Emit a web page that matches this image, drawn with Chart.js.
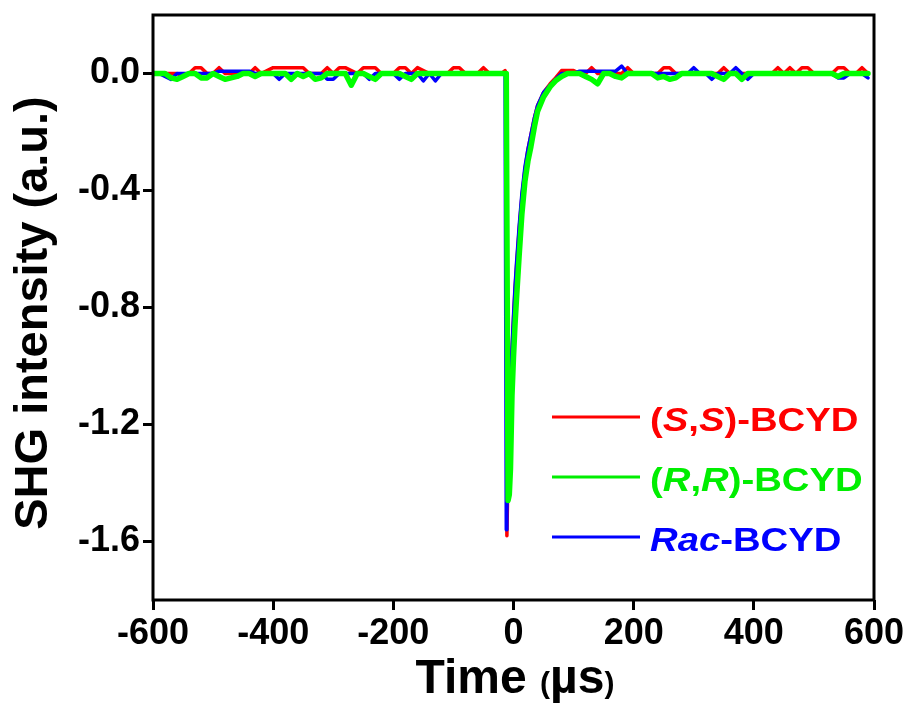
<!DOCTYPE html>
<html lang="en">
<head>
    <meta charset="UTF-8">
    <title>SHG intensity vs time</title>
    <script src="https://cdn.jsdelivr.net/npm/chart.js"></script>
    <style>
        body { margin: 0; background: #fff; }
        #wrap { width: 913px; height: 706px; }
    </style>
</head>
<body>
    <div id="wrap"><canvas id="shgChart" width="913" height="706"></canvas></div>

    <script>
        // sample times (µs)
        const timePre = [
            -600, -590, -580, -570, -560, -550, -540, -530, -520, -510,
            -500, -490, -480, -470, -460, -450, -440, -430, -420, -410,
            -400, -390, -380, -370, -360, -350, -340, -330, -320, -310,
            -300, -290, -280, -270, -260, -250, -240, -230, -220, -210,
            -200, -190, -180, -170, -160, -150, -140, -130, -120, -110,
            -100, -90, -80, -70, -60, -50, -40, -30, -20
        ];
        const timePeak = [-14, -12, -11, -9, -7, -5, -2.5, 0, 2.5, 5, 9.5, 14, 19, 24, 29, 35, 40, 50, 61, 70, 80];
        const timePost = [
            90, 100, 110, 120, 130, 140, 150, 160, 170, 180,
            190, 200, 210, 220, 230, 240, 250, 260, 270, 280,
            290, 300, 310, 320, 330, 340, 350, 360, 370, 380,
            390, 400, 410, 420, 430, 440, 450, 460, 470, 480,
            490, 500, 510, 520, 530, 540, 550, 560, 570, 580,
            590
        ];

        // (S,S)-BCYD
        const redPre = [
            0, 0, 0, 0, 0, -0.01, 0, 0.02, 0.02, 0,
            0, 0.02, 0, 0, 0, 0, 0, 0.02, 0, 0.01,
            0.02, 0.02, 0.02, 0.02, 0.02, 0.02, 0, 0, 0, 0.02,
            0, 0.02, 0.02, 0.01, 0, 0.02, 0.02, 0.02, 0, 0,
            0, 0.02, 0.02, 0, 0.02, 0.01, 0, 0, 0, 0,
            0.02, 0.02, 0, 0, 0, 0.02, 0, 0, 0
        ];
        const redPeak = [0.01, 0, -1.58, -1.35, -1.22, -1.10, -0.95, -0.84, -0.74, -0.66, -0.53, -0.42, -0.33, -0.26, -0.21, -0.15, -0.11, -0.065, -0.035, -0.015, 0.01];
        const redPost = [
            0.01, 0.01, 0, 0, 0.02, 0, 0, 0, 0, 0,
            0.02, 0, 0, 0, 0, 0, 0.02, 0.02, 0, 0,
            0, 0, 0, 0, 0, 0, 0.02, 0, 0, 0,
            0, 0, 0, 0, 0, 0.02, 0, 0.02, 0, 0.02,
            0.02, 0, 0, 0, 0, 0.02, 0.02, 0, 0, 0.02,
            0
        ];

        // (R,R)-BCYD
        const greenPre = [
            0, 0, 0, -0.015, -0.02, -0.01, 0, 0, -0.015, -0.015,
            0, -0.01, -0.02, -0.015, -0.01, 0, 0, -0.01, 0, 0,
            0, 0, 0, -0.02, 0, -0.01, 0, -0.02, -0.015, 0,
            0, 0, 0, -0.04, 0, 0, -0.01, -0.02, 0, 0,
            0, 0, -0.01, -0.02, 0, 0, 0, 0, 0, 0,
            0, 0, 0, 0, 0, 0, 0, 0, 0
        ];
        const greenPeak = [0, 0, 0, -1.46, -1.44, -1.35, -1.10, -0.97, -0.86, -0.77, -0.62, -0.48, -0.37, -0.30, -0.25, -0.18, -0.13, -0.08, -0.045, -0.025, -0.01];
        const greenPost = [
            0, 0, 0, -0.01, -0.02, -0.035, 0, 0, -0.01, -0.015,
            0, 0, 0, 0, 0, -0.015, -0.01, -0.02, -0.015, 0,
            0, 0, 0, 0, 0, -0.01, -0.02, 0, 0, -0.02,
            0, 0, 0, 0, 0, 0, 0, 0, 0, 0,
            0, 0, 0, 0, 0, -0.01, 0, 0, 0, 0,
            0
        ];

        // Rac-BCYD
        const bluePre = [
            0, 0, -0.01, -0.02, 0, 0, 0, 0, 0, 0,
            0, 0.008, 0.008, 0.008, 0.008, 0.008, 0.008, 0, 0, 0,
            0, -0.02, 0, 0, 0, 0, 0, 0, 0, -0.02,
            -0.02, 0, 0, 0, 0, 0, -0.02, 0, 0, 0,
            0, -0.02, 0, 0, 0, -0.025, 0, -0.025, 0, 0,
            0, 0, 0, 0, 0, 0, 0, 0, 0
        ];
        const bluePeak = [0, -1.56, -1.50, -1.33, -1.20, -1.08, -0.94, -0.83, -0.73, -0.65, -0.52, -0.41, -0.32, -0.26, -0.21, -0.15, -0.11, -0.065, -0.04, -0.02, 0];
        const bluePost = [
            0, 0, 0.008, 0.008, 0.008, 0.008, 0.008, 0.008, 0.008, 0.025,
            0, 0, 0, 0, 0, 0, 0, 0, 0, 0,
            0, 0.02, 0, 0, -0.02, 0, 0, 0, 0.02, 0,
            -0.02, 0, 0, 0, 0, 0, 0, 0, 0, 0,
            0, 0, 0, 0, 0, -0.015, -0.015, 0, 0, 0,
            -0.015
        ];

        const xTicks = [-600, -400, -200, 0, 200, 400, 600];
        const yTicks = [0, -0.4, -0.8, -1.2, -1.6];

        const FONT = "'Liberation Sans', Arial, sans-serif";

        const times = timePre.concat(timePeak, timePost);
        function toPoints(pre, peak, post) {
            const vals = pre.concat(peak, post);
            return times.map((t, i) => ({ x: t, y: vals[i] }));
        }

        const legendItems = [
            { color: '#ff0000', y: 417, parts: [['(', false], ['S', true], [',', false], ['S', true], [')-BCYD', false]] },
            { color: '#00ee00', y: 477, parts: [['(', false], ['R', true], [',', false], ['R', true], [')-BCYD', false]] },
            { color: '#0000ff', y: 537, parts: [['Rac', true], ['-BCYD', false]] }
        ];

        const decorations = {
            id: 'decorations',
            afterDraw(chart) {
                const ctx = chart.ctx;
                const a = chart.chartArea;
                ctx.save();

                // frame
                ctx.strokeStyle = '#000';
                ctx.lineWidth = 3;
                ctx.strokeRect(a.left, a.top, a.right - a.left, a.bottom - a.top);

                // legend
                legendItems.forEach(item => {
                    ctx.strokeStyle = item.color;
                    ctx.lineWidth = 3;
                    ctx.beginPath();
                    ctx.moveTo(552, item.y);
                    ctx.lineTo(640, item.y);
                    ctx.stroke();

                    ctx.save();
                    ctx.translate(650, item.y + 14);
                    ctx.scale(1.16, 1);
                    ctx.fillStyle = item.color;
                    ctx.textBaseline = 'alphabetic';
                    let x = 0;
                    item.parts.forEach(([txt, ital]) => {
                        ctx.font = (ital ? 'italic ' : '') + 'bold 33px ' + FONT;
                        ctx.fillText(txt, x, 0);
                        x += ctx.measureText(txt).width;
                    });
                    ctx.restore();
                });

                // y title
                ctx.save();
                ctx.fillStyle = '#000';
                ctx.translate(47, 313);
                ctx.rotate(-Math.PI / 2);
                ctx.font = 'bold 47px ' + FONT;
                ctx.textAlign = 'center';
                ctx.textBaseline = 'alphabetic';
                ctx.fillText('SHG intensity (a.u.)', 0, 0);
                ctx.restore();

                // x title, with smaller brackets
                const parts = [['Time ', 48], ['(', 30], ['µs', 48], [')', 30]];
                let total = 0;
                parts.forEach(([t, s]) => { ctx.font = 'bold ' + s + 'px ' + FONT; total += ctx.measureText(t).width; });
                let x = 515 - total / 2;
                ctx.fillStyle = '#000';
                ctx.textBaseline = 'alphabetic';
                parts.forEach(([t, s]) => {
                    ctx.font = 'bold ' + s + 'px ' + FONT;
                    ctx.fillText(t, x, 693);
                    x += ctx.measureText(t).width;
                });

                ctx.restore();
            }
        };

        const lineStyle = { pointRadius: 0, tension: 0, borderJoinStyle: 'round', borderCapStyle: 'round', fill: false };

        function noPad(s) {
            s.paddingTop = 0;
            s.paddingBottom = 0;
            s.paddingLeft = 0;
            s.paddingRight = 0;
        }

        new Chart(document.getElementById('shgChart'), {
            type: 'line',
            data: {
                datasets: [
                    Object.assign({ label: '(R,R)-BCYD', data: toPoints(greenPre, greenPeak, greenPost), borderColor: '#00ff00', borderWidth: 5.5 }, lineStyle),
                    Object.assign({ label: 'Rac-BCYD', data: toPoints(bluePre, bluePeak, bluePost), borderColor: '#0000ff', borderWidth: 3.5 }, lineStyle),
                    Object.assign({ label: '(S,S)-BCYD', data: toPoints(redPre, redPeak, redPost), borderColor: '#ff0000', borderWidth: 3.5 }, lineStyle)
                ]
            },
            options: {
                responsive: false,
                animation: false,
                layout: { padding: { left: 0, top: 15, right: 39, bottom: 0 } },
                plugins: { legend: { display: false }, tooltip: { enabled: false } },
                scales: {
                    x: {
                        type: 'linear',
                        min: -600,
                        max: 600,
                        afterBuildTicks: s => { s.ticks = xTicks.map(v => ({ value: v })); },
                        afterFit: s => { s.height = 106; noPad(s); },
                        grid: { drawOnChartArea: false, drawTicks: true, tickLength: 10, tickWidth: 3, tickColor: '#000' },
                        border: { display: false },
                        ticks: {
                            color: '#000',
                            padding: 2,
                            maxRotation: 0,
                            font: { family: FONT, weight: 'bold', size: 36 },
                            callback: v => String(v)
                        }
                    },
                    y: {
                        min: -1.8,
                        max: 0.2,
                        afterBuildTicks: s => { s.ticks = yTicks.map(v => ({ value: v })); },
                        afterFit: s => { s.width = 153; noPad(s); },
                        grid: { drawOnChartArea: false, drawTicks: true, tickLength: 10, tickWidth: 3, tickColor: '#000' },
                        border: { display: false },
                        ticks: {
                            color: '#000',
                            padding: 3,
                            font: { family: FONT, weight: 'bold', size: 36 },
                            callback: v => (Math.abs(v) < 1e-9 ? 0 : v).toFixed(1)
                        }
                    }
                }
            },
            plugins: [decorations]
        });
    </script>
</body>
</html>
